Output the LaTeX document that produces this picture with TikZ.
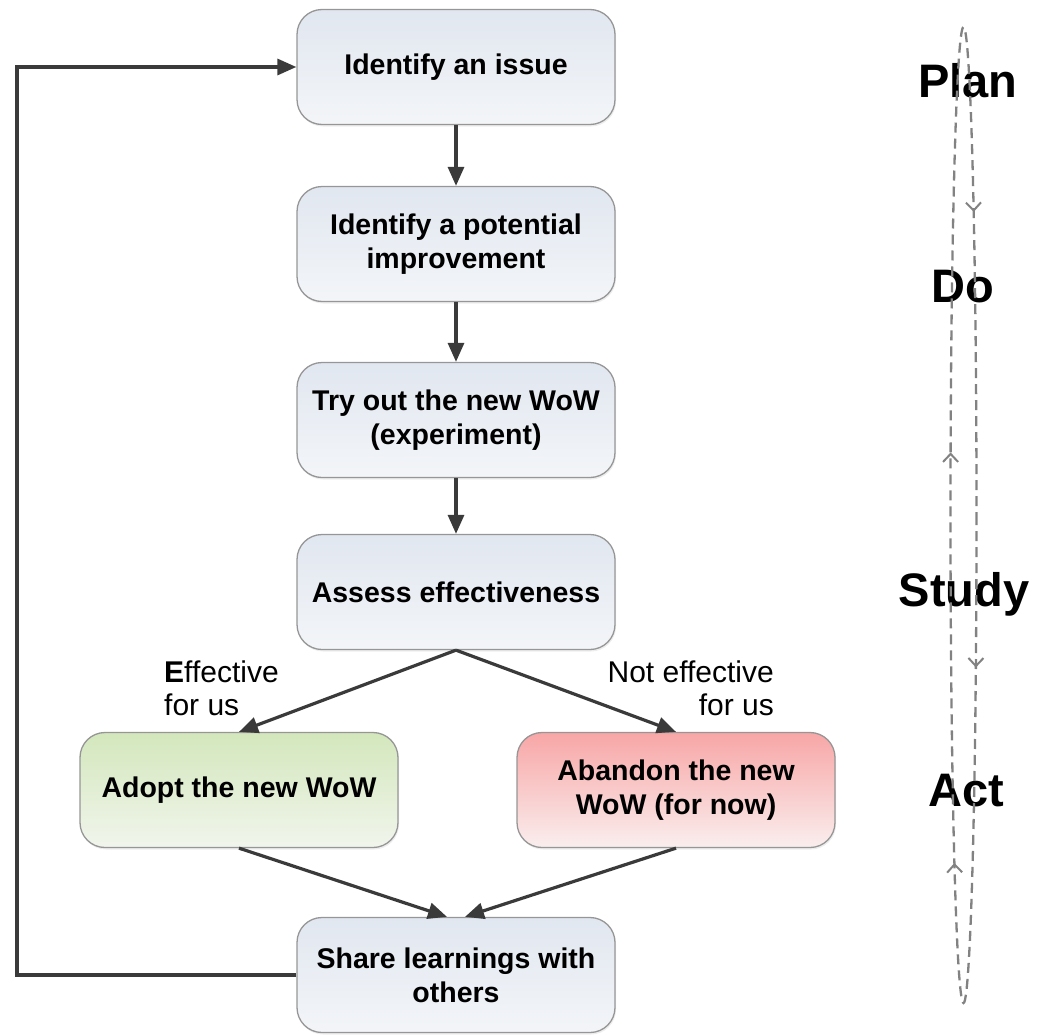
\documentclass[tikz,border=0pt]{standalone}
\usepackage{fontspec}
\setmainfont{Liberation Sans}
\usetikzlibrary{arrows.meta,decorations.markings,shadows}

\definecolor{boxtop}{RGB}{225,231,240}
\definecolor{boxbot}{RGB}{243,245,248}
\definecolor{greentop}{RGB}{211,231,188}
\definecolor{greenbot}{RGB}{241,245,236}
\definecolor{redtop}{RGB}{248,166,166}
\definecolor{redbot}{RGB}{250,238,238}
\definecolor{boxline}{RGB}{150,150,150}
\definecolor{flow}{RGB}{58,58,58}
\definecolor{cyclegray}{RGB}{130,130,130}

\tikzset{
  stepbox/.style={draw=boxline, line width=1.3pt, rounded corners=25pt,
    minimum width=318pt, minimum height=115pt, align=center,
    top color=boxtop, bottom color=boxbot,
    font=\bfseries\fontsize{28.5}{34}\selectfont,
    drop shadow={opacity=0.14, shadow xshift=1pt, shadow yshift=-2pt}},
  goodbox/.style={stepbox, top color=greentop, bottom color=greenbot},
  badbox/.style={stepbox, top color=redtop, bottom color=redbot},
  flowarrow/.style={draw=flow, line width=3.2pt,
    -{Triangle[length=19pt,width=16pt]}},
  branchlabel/.style={font=\fontsize{30}{33}\selectfont, inner sep=0pt},
  phase/.style={font=\bfseries\fontsize{47}{50}\selectfont, inner sep=0pt, anchor=base},
  cyclehead/.style={solid, line width=2pt},
}

\begin{document}
\begin{tikzpicture}[x=1pt, y=-1pt]
\useasboundingbox (0,0) rectangle (1050,1036);

% process steps
\node[stepbox] (issue)   at (456,67)  {Identify an issue};
\node[stepbox] (improve) at (456,244) {Identify a potential\\improvement};
\node[stepbox] (try)     at (456,420) {Try out the new WoW\\(experiment)};
\node[stepbox] (assess)  at (456,592) {Assess effectiveness};
\node[goodbox] (adopt)   at (239,790) {Adopt the new WoW};
\node[badbox]  (abandon) at (676,790) {Abandon the new\\WoW (for now)};
\node[stepbox] (share)   at (456,975) {Share learnings with\\others};

% branch labels
\node[branchlabel, anchor=north west, align=left] (efflabel) at (164,661)
  {{\bfseries E}ffective\\for us};
\node[branchlabel, anchor=north east, align=right] (nefflabel) at (774,661)
  {Not effective\\for us};

% main flow
\draw[flowarrow] (issue.south) -- (improve.north);
\draw[flowarrow] (improve.south) -- (try.north);
\draw[flowarrow] (try.south) -- (assess.north);
\draw[flowarrow] (assess.south) -- (adopt.north);
\draw[flowarrow] (assess.south) -- (abandon.north);
\draw[flowarrow] (adopt.south) -- ([xshift=-9pt]share.north);
\draw[flowarrow] (abandon.south) -- ([xshift=9pt]share.north);

% feedback loop back to the start
\coordinate (backrail) at (17,0);
\draw[flowarrow] (share.west) -- (share.west -| backrail) |- (issue.west);

% PDCA phases
\node[phase] (plan)  at (968,97)  {Plan};
\node[phase] (do)    at (963,302) {Do};
\node[phase] (study) at (964,606) {Study};
\node[phase] (act)   at (966,806) {Act};

% dashed PDCA cycle
\draw[cyclegray, line width=2.3pt, dash pattern=on 10pt off 6pt,
  postaction={decorate},
  decoration={markings,
    mark=at position 0.078 with {\arrow[cyclehead]{Straight Barb[length=8pt,width=15pt]}},
    mark=at position 0.322 with {\arrow[cyclehead]{Straight Barb[length=8pt,width=15pt]}},
    mark=at position 0.532 with {\arrow[cyclehead]{Straight Barb[length=8pt,width=15pt]}},
    mark=at position 0.845 with {\arrow[cyclehead]{Straight Barb[length=8pt,width=15pt]}}}]
  (963.5,515) ellipse [x radius=13, y radius=488];
\end{tikzpicture}
\end{document}
